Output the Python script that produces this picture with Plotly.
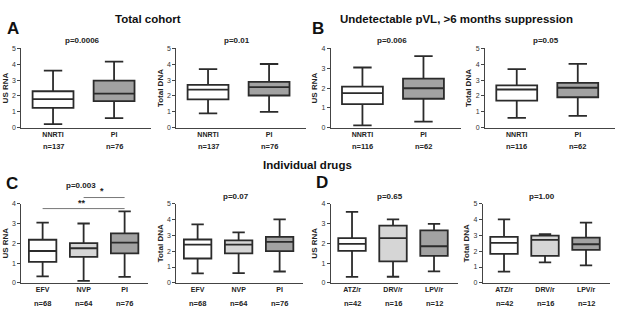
import plotly.graph_objects as go

W, H = 617, 311
FONT = "Liberation Sans, Arial, sans-serif"

# ---------------- data (five-number summaries: low whisker, Q1, median, Q3, high whisker)
cats_AB = ["NNRTI", "PI"]
cats_C = ["EFV", "NVP", "PI"]
cats_D = ["ATZ/r", "DRV/r", "LPV/r"]

n_A = [137, 76]
n_B = [116, 62]
n_C = [68, 64, 76]
n_D = [42, 16, 12]

A_rna = [[0.22, 1.25, 1.80, 2.30, 3.60], [0.60, 1.68, 2.15, 2.97, 4.17]]
A_dna = [[0.90, 1.78, 2.40, 2.70, 3.69], [1.00, 2.03, 2.56, 2.89, 4.02]]
B_rna = [[0.12, 1.19, 1.74, 2.07, 3.04], [0.30, 1.46, 1.99, 2.48, 3.61]]
B_dna = [[0.62, 1.71, 2.41, 2.67, 3.70], [0.74, 1.92, 2.52, 2.83, 4.03]]
C_rna = [[0.33, 1.06, 1.61, 2.18, 3.04], [0.10, 1.31, 1.75, 2.01, 3.00], [0.30, 1.49, 2.03, 2.50, 3.61]]
C_dna = [[0.60, 1.54, 2.41, 2.74, 3.69], [0.61, 1.86, 2.42, 2.69, 3.19], [0.72, 2.01, 2.59, 2.91, 4.01]]
D_rna = [[0.30, 1.62, 1.97, 2.26, 3.59], [0.31, 1.09, 2.26, 2.89, 3.21], [0.58, 1.36, 1.85, 2.65, 2.98]]
D_dna = [[0.71, 1.83, 2.52, 2.90, 4.01], [1.29, 1.71, 2.71, 2.99, 3.07], [1.11, 2.08, 2.44, 2.86, 3.81]]

p_values = ["p=0.0006", "p=0.01", "p=0.006", "p=0.05", "p=0.003", "p=0.07", "p=0.65", "p=1.00"]
ylabels = ["US RNA", "Total DNA", "US RNA", "Total DNA", "US RNA", "Total DNA", "US RNA", "Total DNA"]
ymax = [5, 5, 4, 5, 4, 5, 4, 5]

WHITE, LIGHT, GREY = "#ffffff", "#d6d6d6", "#a2a2a2"
fills_AB = [WHITE, GREY]
fills_CD = [WHITE, LIGHT, GREY]

# ---------------- layout geometry (pixels)
TOP_ROW = (45.5, 126.5)
BOT_ROW = (204.3, 285.3)
panels = [
    # (stats, cats, n, fills, x0, x1, row)
    (A_rna, cats_AB, n_A, fills_AB, 21.3, 151.3, TOP_ROW),
    (A_dna, cats_AB, n_A, fills_AB, 176.3, 306.3, TOP_ROW),
    (B_rna, cats_AB, n_B, fills_AB, 330.7, 460.7, TOP_ROW),
    (B_dna, cats_AB, n_B, fills_AB, 485.0, 615.0, TOP_ROW),
    (C_rna, cats_C, n_C, fills_CD, 21.3, 148.4, BOT_ROW),
    (C_dna, cats_C, n_C, fills_CD, 176.3, 303.4, BOT_ROW),
    (D_rna, cats_D, n_D, fills_CD, 330.7, 457.8, BOT_ROW),
    (D_dna, cats_D, n_D, fills_CD, 482.7, 609.8, BOT_ROW),
]

fig = go.Figure()
layout = {}
annotations = []
shapes = []
LINE = "#2b2b2b"
AXC = "#444444"

for i, (stats, cats, ns, fills, x0, x1, row) in enumerate(panels):
    k = i + 1
    xa = "x" if k == 1 else f"x{k}"
    ya = "y" if k == 1 else f"y{k}"
    ncat = len(cats)
    for j, cat in enumerate(cats):
        lo, q1, med, q3, hi = stats[j]
        fig.add_trace(go.Box(
            x=[cat], q1=[q1], median=[med], q3=[q3], lowerfence=[lo], upperfence=[hi],
            width=0.67, whiskerwidth=0.45, fillcolor=fills[j],
            line=dict(color=LINE, width=1.8), boxpoints=False,
            xaxis=xa, yaxis=ya, showlegend=False, hoverinfo="skip",
        ))
    xr = [-0.52, 1.61] if ncat == 2 else [-0.52, 2.58]
    layout["xaxis" if k == 1 else f"xaxis{k}"] = dict(
        domain=[x0 / W, x1 / W], anchor=ya, type="category", categoryarray=cats,
        range=xr, showline=True, linecolor=AXC, linewidth=1, showgrid=False,
        ticks="", tickfont=dict(family=FONT, size=7, color="#222", weight="bold"),
        fixedrange=True,
    )
    top, bot = row
    layout["yaxis" if k == 1 else f"yaxis{k}"] = dict(
        domain=[1 - bot / H, 1 - top / H], anchor=xa, range=[0, ymax[i]], dtick=1,
        showline=True, linecolor=AXC, linewidth=1, showgrid=False, zeroline=False,
        ticks="outside", ticklen=3, tickcolor=AXC, tickwidth=1,
        tickfont=dict(family=FONT, size=7, color="#333"),
        title=dict(text=ylabels[i], font=dict(family=FONT, size=8, color="#222", weight="bold"), standoff=2),
        fixedrange=True,
    )
    # n labels
    ny = 146 if row == TOP_ROW else 306
    for j, cat in enumerate(cats):
        annotations.append(dict(x=cat, xref=xa, y=1 - ny / H, yref="paper", text=f"n={ns[j]}",
                                xanchor="center", yanchor="middle",
                                showarrow=False, font=dict(family=FONT, size=7.5, color="#222", weight="bold")))
    # p values
    py = 186 if k == 5 else (37 if row == TOP_ROW else 197)
    annotations.append(dict(x=0.47, xref=f"{xa} domain", y=1 - py / H, yref="paper",
                            xanchor="center", yanchor="middle",
                            text=p_values[i], showarrow=False,
                            font=dict(family=FONT, size=8, color="#222", weight="bold")))

# significance bars in panel C (US RNA)
sig_pairs = [("NVP", "PI", 198.0, 191.0, "*"), ("EFV", "PI", 209.3, 203.5, "**")]
for a, b, yline, ystar, star in sig_pairs:
    shapes.append(dict(type="line", xref="x5", yref="paper", x0=a, x1=b,
                       y0=1 - yline / H, y1=1 - yline / H,
                       line=dict(color="#777", width=1)))
    annotations.append(dict(x=1.45 if a == "NVP" else 0.95, xref="x5", y=1 - ystar / H, yref="paper",
                            xanchor="center", yanchor="middle",
                            text=star, showarrow=False,
                            font=dict(family=FONT, size=9, color="#222", weight="bold")))

# titles and panel letters
titles = [("Total cohort", 148, 15.7), ("Undetectable pVL, >6 months suppression", 457, 15.7),
          ("Individual drugs", 307, 165)]
for t, x, y in titles:
    annotations.append(dict(x=x / W, y=1 - y / H, xref="paper", yref="paper", text=t, showarrow=False,
                            xanchor="center", yanchor="middle",
                            font=dict(family=FONT, size=11.5, color="#111", weight="bold")))
letters = [("A", 13, 25.5), ("B", 318, 25.5), ("C", 12, 184), ("D", 322, 183)]
for t, x, y in letters:
    annotations.append(dict(x=x / W, y=1 - y / H, xref="paper", yref="paper", text=t, showarrow=False,
                            xanchor="center", yanchor="middle",
                            font=dict(family=FONT, size=17, color="#111", weight="bold")))

fig.update_layout(
    width=W, height=H, margin=dict(l=0, r=0, t=0, b=0),
    paper_bgcolor="white", plot_bgcolor="white", boxmode="overlay",
    annotations=annotations, shapes=shapes, showlegend=False,
    font=dict(family=FONT),
    **layout,
)
fig.write_html("out.html", config={"displayModeBar": False},
               post_script="document.body.style.margin='0';document.body.style.overflow='hidden';")
